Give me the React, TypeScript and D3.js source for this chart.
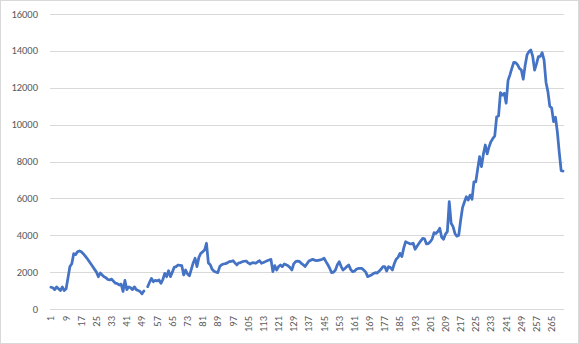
import React from "react";
import * as d3 from "d3";

const values: (number | null)[] = [
  // 1-10
  1180, 1150, 1050, 1200, 1100, 1000, 1200, 1000, 1100, 1700,
  // 11-20
  2300, 2450, 3000, 2950, 3100, 3150, 3100, 3000, 2880, 2750,
  // 21-30
  2600, 2450, 2300, 2150, 2000, 1750, 1950, 1850, 1750, 1700,
  // 31-40
  1600, 1580, 1620, 1500, 1400, 1380, 1300, 1350, 950, 1550,
  // 41-50
  1050, 1200, 1150, 1050, 1200, 1050, 1000, 950, 820, 980,
  // 51-60
  null, 1210, 1450, 1660, 1480, 1550, 1520, 1573, 1394, 1600,
  // 61-70
  1936, 1752, 2078, 1752, 2000, 2260, 2300, 2387, 2370, 2350,
  // 71-80
  1844, 2115, 1900, 1800, 2150, 2500, 2750, 2300, 2800, 3020,
  // 81-90
  3100, 3200, 3565, 2500, 2400, 2150, 2050, 2000, 1970, 2300,
  // 91-100
  2400, 2440, 2460, 2500, 2570, 2580, 2620, 2500, 2390, 2500,
  // 101-110
  2520, 2570, 2590, 2600, 2500, 2440, 2500, 2510, 2480, 2560,
  // 111-120
  2620, 2480, 2520, 2570, 2620, 2660, 2690, 2025, 2350, 2115,
  // 121-130
  2300, 2387, 2300, 2440, 2400, 2350, 2250, 2115, 2450, 2570,
  // 131-140
  2600, 2580, 2478, 2400, 2300, 2450, 2600, 2650, 2690, 2650,
  // 141-150
  2620, 2640, 2660, 2700, 2750, 2570, 2400, 2200, 1970, 2000,
  // 151-160
  2115, 2400, 2567, 2300, 2115, 2200, 2300, 2387, 2150, 2025,
  // 161-170
  2050, 2150, 2200, 2200, 2200, 2100, 2000, 1752, 1800, 1850,
  // 171-180
  1920, 1970, 1950, 2050, 2150, 2296, 2296, 2060, 2296, 2250,
  // 181-190
  2115, 2450, 2700, 2800, 3020, 2840, 3300, 3650, 3600, 3550,
  // 191-200
  3530, 3565, 3240, 3400, 3550, 3700, 3830, 3800, 3530, 3550,
  // 201-210
  3650, 3800, 4140, 4100, 4200, 4380, 3890, 3780, 4060, 4200,
  // 211-220
  5820, 4650, 4470, 4100, 3950, 4000, 4800, 5500, 5800, 6090,
  // 221-230
  5910, 6180, 5950, 6900, 6900, 7600, 8260, 7720, 8400, 8895,
  // 231-240
  8410, 8800, 9080, 9250, 9385, 10430, 10470, 11730, 11600, 11700,
  // 241-250
  11160, 12400, 12700, 13050, 13380, 13360, 13250, 13050, 12960, 12460,
  // 251-260
  13200, 13780, 13960, 14050, 13700, 12960, 13300, 13690, 13700, 13900,
  // 261-271
  13500, 12300, 11800, 11000, 10900, 10160, 10400, 9600, 8500, 7500, 7480,
];

const categories: string[] = values.map((_, i) => String(i + 1));
const yTicks: number[] = [0, 2000, 4000, 6000, 8000, 10000, 12000, 14000, 16000];
const xTickLabels: string[] = categories.filter((_, i) => i % 8 === 0);

const W = 579;
const H = 344;
const left = 50;
const right = 564;
const top = 14;
const bottom = 309;

export default function App() {
  const x = d3.scaleBand<string>().domain(categories).range([left, right]).padding(0);
  const y = d3.scaleLinear().domain([0, 16000]).range([bottom, top]);
  const cx = (c: string) => (x(c) as number) + x.bandwidth() / 2;

  const line = d3
    .line<number | null>()
    .defined((d) => d !== null)
    .x((_, i) => cx(categories[i]))
    .y((d) => y(d as number));

  const font = "Calibri, Carlito, 'Liberation Sans', Arial, sans-serif";

  return (
    <div style={{ position: "fixed", left: 0, top: 0 }}>
      <svg width={W} height={H} style={{ display: "block" }}>
        <rect x={0.5} y={0.5} width={W - 1} height={H - 1} fill="#ffffff" stroke="#D9D9D9" />
        {yTicks.map((t) => (
          <g key={t}>
            <line x1={left} x2={right} y1={Math.round(y(t)) + 0.5} y2={Math.round(y(t)) + 0.5} stroke="#D9D9D9" strokeWidth={1} />
            <text
              x={38}
              y={y(t)}
              textAnchor="end"
              dominantBaseline="central"
              fontFamily={font}
              fontSize={10.5}
              fill="#595959"
            >
              {t}
            </text>
          </g>
        ))}
        {xTickLabels.map((c) => (
          <text
            key={c}
            transform={`translate(${cx(c)},316) rotate(-90)`}
            textAnchor="end"
            dominantBaseline="central"
            fontFamily={font}
            fontSize={10.5}
            fill="#595959"
          >
            {c}
          </text>
        ))}
        <path
          d={line(values) || ""}
          fill="none"
          stroke="#4472C4"
          strokeWidth={2.75}
          strokeLinejoin="round"
          strokeLinecap="round"
        />
      </svg>
    </div>
  );
}
